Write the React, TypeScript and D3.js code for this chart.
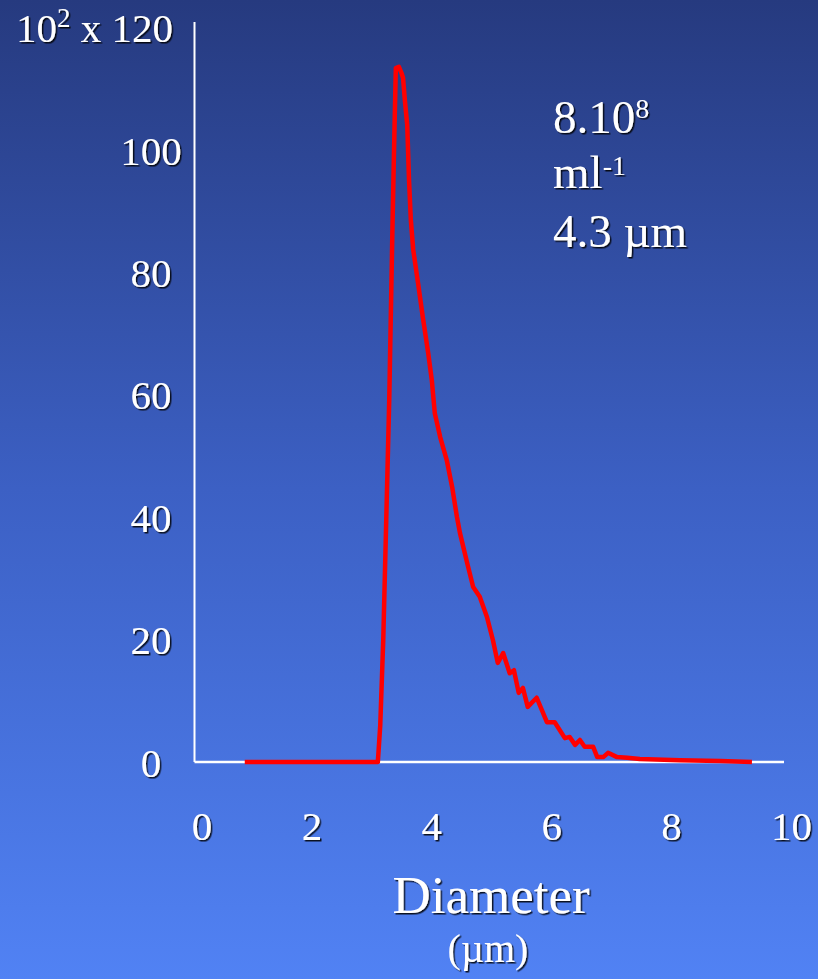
import React from "react";
import * as d3 from "d3";

const diameter = [0.88, 3.1, 3.14, 3.19, 3.24, 3.29, 3.34, 3.37, 3.4, 3.45, 3.49, 3.52, 3.55, 3.59, 3.62, 3.65, 3.69, 3.77, 3.85, 3.94, 4.0, 4.05, 4.14, 4.25, 4.34, 4.42, 4.47, 4.59, 4.69, 4.8, 4.92, 5.02, 5.1, 5.19, 5.3, 5.37, 5.45, 5.52, 5.6, 5.75, 5.92, 6.05, 6.22, 6.3, 6.39, 6.47, 6.55, 6.69, 6.76, 6.86, 6.94, 7.09, 7.26, 7.47, 8.14, 8.81, 9.34];
const count = [0, 0, 6.0, 19.9, 39.5, 59.2, 85.3, 100, 113.4, 113.6, 112.7, 111.8, 108.2, 104.1, 95.1, 88.6, 83.7, 78.3, 72.7, 66.8, 62.4, 57.0, 53.1, 49.3, 44.9, 40.0, 37.4, 32.5, 28.6, 27.0, 23.7, 19.9, 16.2, 17.8, 14.5, 15.0, 11.3, 12.1, 9.0, 10.5, 6.5, 6.5, 3.9, 4.1, 2.8, 3.6, 2.5, 2.5, 0.8, 0.8, 1.5, 0.8, 0.7, 0.5, 0.3, 0.15, 0];

const xTicks = [0, 2, 4, 6, 8, 10];
const yTicks = [0, 20, 40, 60, 80, 100];
const yTopTick = 120;

const W = 818;
const H = 979;
const FONT = "'Liberation Serif', 'Times New Roman', serif";

export default function App() {
  const x = d3.scaleLinear().domain([0, 10]).range([192, 791.5]);
  const y = d3.scaleLinear().domain([0, 120]).range([762, 27.6]);
  const pts: [number, number][] = diameter.map((d, i) => [d, count[i]]);
  const line = d3
    .line<[number, number]>()
    .x((d) => x(d[0]))
    .y((d) => y(d[1]))
    .curve(d3.curveLinear);

  const axisLeft = 194.5;
  const axisRight = 784;
  const axisTop = 22;

  const txt = { fill: "#fff", fontFamily: FONT, filter: "url(#sh)" } as const;

  return (
    <svg
      width={W}
      height={H}
      style={{ position: "absolute", left: 0, top: 0, display: "block" }}
    >
      <defs>
        <linearGradient id="bg" x1="0" y1="0" x2="0" y2="1">
          <stop offset="0" stopColor="#263a7f" />
          <stop offset="0.5" stopColor="#3c60c4" />
          <stop offset="1" stopColor="#5182f4" />
        </linearGradient>
        <filter id="sh" x="-10%" y="-10%" width="130%" height="130%">
          <feDropShadow dx="1.5" dy="1.5" stdDeviation="0.4" floodColor="#000" floodOpacity="0.85" />
        </filter>
      </defs>
      <rect x={0} y={0} width={W} height={H} fill="url(#bg)" />

      {/* axes */}
      <line x1={axisLeft} x2={axisLeft} y1={axisTop} y2={y(0)} stroke="#fff" strokeWidth={2} />
      <line x1={axisLeft} x2={axisRight} y1={y(0)} y2={y(0)} stroke="#fff" strokeWidth={2.5} />

      {/* y tick labels */}
      {yTicks.map((t) => (
        <text key={t} x={151} y={y(t) + 14.5} textAnchor="middle" fontSize={41} {...txt}>
          {t}
        </text>
      ))}
      <text x={173} y={y(yTopTick) + 14.5} textAnchor="end" fontSize={41} {...txt}>
        10
        <tspan fontSize={27} dy={-15}>2</tspan>
        <tspan dy={15}> x {yTopTick}</tspan>
      </text>

      {/* x tick labels */}
      {xTicks.map((t) => (
        <text
          key={t}
          x={t === 0 ? x(t) + 10 : x(t)}
          y={840}
          textAnchor="middle"
          fontSize={41}
          {...txt}
        >
          {t}
        </text>
      ))}

      {/* x title */}
      <text x={491} y={913} textAnchor="middle" fontSize={53} {...txt}>
        Diameter
      </text>
      <text x={488} y={962} textAnchor="middle" fontSize={40} {...txt}>
        (µm)
      </text>

      {/* annotation */}
      <text x={553} y={133} fontSize={47} {...txt}>
        8.10<tspan fontSize={28} dy={-15}>8</tspan>
      </text>
      <text x={553} y={188} fontSize={47} {...txt}>
        ml<tspan fontSize={28} dy={-13}>-1</tspan>
      </text>
      <text x={553} y={247} fontSize={47} {...txt}>
        4.3 µm
      </text>

      {/* data line */}
      <path
        d={line(pts) || ""}
        fill="none"
        stroke="#ff0000"
        strokeWidth={4.5}
        strokeLinejoin="round"
        strokeLinecap="butt"
      />
    </svg>
  );
}
